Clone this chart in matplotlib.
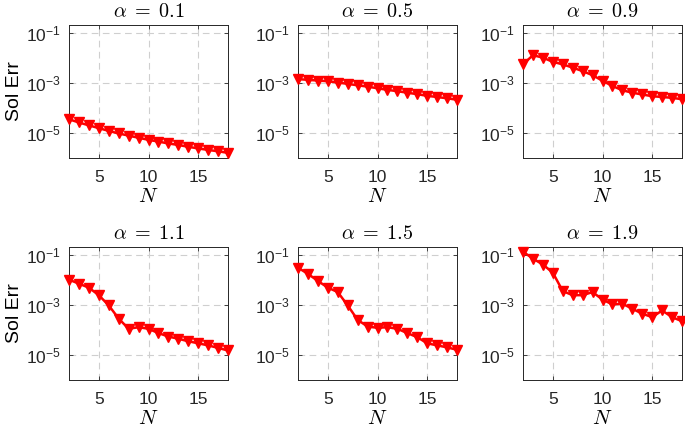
import matplotlib
matplotlib.use("Agg")
import matplotlib.pyplot as plt
import numpy as np
from matplotlib.ticker import FixedLocator, FuncFormatter, NullLocator

plt.rcParams['font.family'] = ['Liberation Sans', 'DejaVu Sans']
plt.rcParams['mathtext.fontset'] = 'cm'

N = list(range(2, 19))
alphas = ["0.1", "0.5", "0.9", "1.1", "1.5", "1.9"]

err_a01 = [3.5e-5, 2.6e-5, 2.0e-5, 1.55e-5, 1.2e-5, 9.5e-6, 7.8e-6, 6.4e-6, 5.3e-6,
           4.5e-6, 3.8e-6, 3.3e-6, 2.8e-6, 2.4e-6, 2.1e-6, 1.85e-6, 1.6e-6]
err_a05 = [1.4e-3, 1.3e-3, 1.22e-3, 1.15e-3, 1.02e-3, 9.0e-4, 7.9e-4, 7.0e-4, 6.0e-4,
           5.2e-4, 4.6e-4, 4.0e-4, 3.5e-4, 3.0e-4, 2.7e-4, 2.4e-4, 2.1e-4]
err_a09 = [5.4e-3, 1.25e-2, 1.0e-2, 6.8e-3, 5.4e-3, 4.0e-3, 2.9e-3, 2.0e-3, 1.2e-3,
           7.4e-4, 5.0e-4, 4.0e-4, 3.4e-4, 2.9e-4, 2.7e-4, 2.5e-4, 2.2e-4]
err_a11 = [1.0e-2, 6.9e-3, 4.8e-3, 2.4e-3, 9.4e-4, 2.8e-4, 1.1e-4, 1.27e-4, 1.1e-4,
           7.4e-5, 5.4e-5, 4.4e-5, 3.5e-5, 2.9e-5, 2.4e-5, 1.9e-5, 1.5e-5]
err_a15 = [3.0e-2, 1.7e-2, 8.9e-3, 4.8e-3, 3.2e-3, 9.4e-4, 2.5e-4, 1.35e-4, 1.2e-4,
           1.27e-4, 1.1e-4, 7.4e-5, 5.1e-5, 2.9e-5, 2.4e-5, 2.0e-5, 1.6e-5]
err_a19 = [1.3e-1, 6.9e-2, 4.0e-2, 1.9e-2, 3.5e-3, 2.4e-3, 2.4e-3, 3.2e-3, 1.6e-3,
           1.03e-3, 1.1e-3, 6.9e-4, 4.4e-4, 3.2e-4, 5.9e-4, 3.2e-4, 2.2e-4]
series = [err_a01, err_a05, err_a09, err_a11, err_a15, err_a19]

xticks = [5, 10, 15]
yticks = [1e-5, 1e-3, 1e-1]

fig = plt.figure(figsize=(6.85, 4.28), dpi=100)
lefts = [69 / 685, 298 / 685, 523 / 685]
bottoms = [1 - 158 / 428, 1 - 380 / 428]
w = 159 / 685
h = 133 / 428

edge = '#262626'
for i, (a, y) in enumerate(zip(alphas, series)):
    r, c = divmod(i, 3)
    ax = fig.add_axes([lefts[c], bottoms[r], w, h])
    ax.set_yscale('log')
    ax.plot(N, y, color='red', lw=1.8, marker='v', ms=7, mfc='red', mec='red',
            clip_on=False, zorder=3)
    ax.set_xlim(2, 18)
    ax.set_ylim(1e-6, 0.2)
    ax.xaxis.set_major_locator(FixedLocator(xticks))
    ax.yaxis.set_major_locator(FixedLocator(yticks))
    ax.yaxis.set_minor_locator(NullLocator())
    ax.yaxis.set_major_formatter(FuncFormatter(
        lambda v, p: r'$\mathregular{10^{%d}}$' % int(round(np.log10(v)))))
    ax.grid(True, ls=(0, (6, 4)), color='#cfcfcf', lw=0.8)
    ax.set_axisbelow(True)
    ax.tick_params(direction='in', length=3, width=0.6, top=True, right=True,
                   labelsize=12.5, colors=edge)
    ax.tick_params(axis='x', pad=9)
    ax.tick_params(axis='y', pad=6)
    ax.tick_params(which='minor', length=0)
    for s in ax.spines.values():
        s.set_color(edge)
        s.set_linewidth(0.7)
    ax.set_title(r'$\alpha\;=\;%s$' % a, fontsize=14.5, pad=6)
    ax.set_xlabel(r'$N$', fontsize=15, labelpad=1)
    if c == 0:
        ax.set_ylabel('Sol Err', fontsize=14, labelpad=2)

fig.savefig('out.png', dpi=100)
